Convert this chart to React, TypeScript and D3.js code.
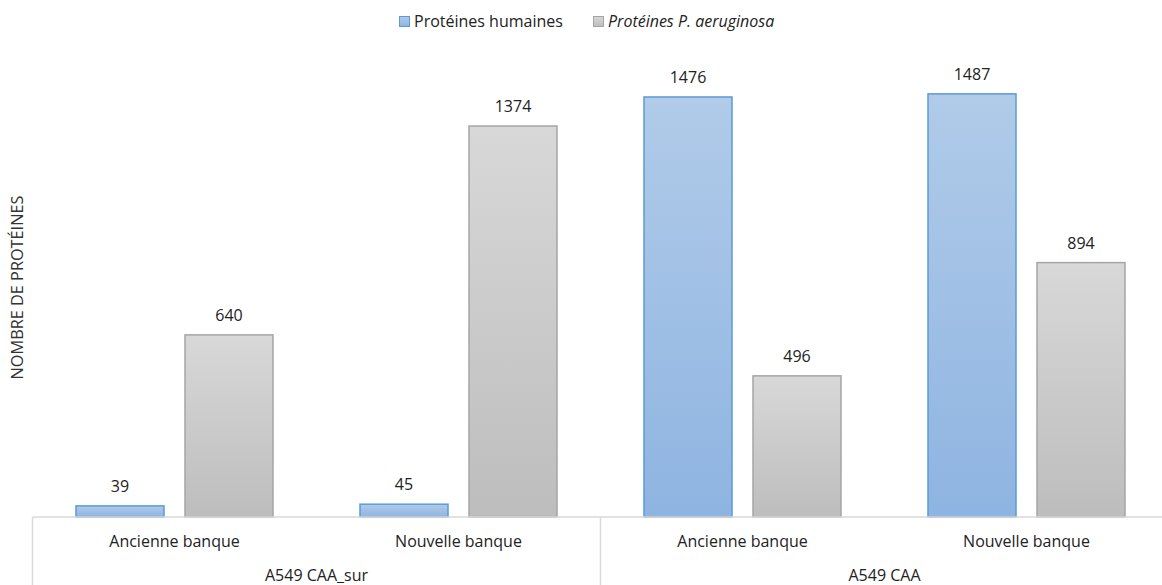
import React from "react";
import * as d3 from "d3";

const subCategories = ["Ancienne banque", "Nouvelle banque", "Ancienne banque", "Nouvelle banque"];
const groups = ["A549 CAA_sur", "A549 CAA"];
const seriesNames = ["Protéines humaines", "Protéines P. aeruginosa"];
const humaines = [39, 45, 1476, 1487];
const aeruginosa = [640, 1374, 496, 894];

const W = 1162;
const H = 585;
const FONT = "'Open Sans', sans-serif";

export default function App() {
  const left = 32.5;
  const right = 1168.5;
  const baseline = 517;
  const x = d3.scaleBand<number>().domain(d3.range(4)).range([left, right]).paddingInner(0).paddingOuter(0);
  const inner = d3.scaleBand<number>().domain([0, 1]).range([43.5, 284 - 43.5]).paddingInner(21 / 109).paddingOuter(0);
  const y = d3.scaleLinear().domain([0, 1600]).range([baseline, baseline - 455.3]);
  const series = [humaines, aeruginosa];
  const groupW = x.bandwidth() * 2;

  return (
    <svg
      width={W}
      height={H}
      style={{ display: "block", fontFamily: FONT, position: "fixed", left: 0, top: 0 }}
    >
      <defs>
        <linearGradient id="gBlue" x1="0" y1="0" x2="0" y2="1">
          <stop offset="0" stopColor="#b1cbe9" />
          <stop offset="1" stopColor="#8eb4e1" />
        </linearGradient>
        <linearGradient id="gGray" x1="0" y1="0" x2="0" y2="1">
          <stop offset="0" stopColor="#d8d8d8" />
          <stop offset="1" stopColor="#bdbdbd" />
        </linearGradient>
      </defs>
      <rect width={W} height={H} fill="#fff" />
      {/* legend */}
      <g>
        <rect x={399.5} y={16.5} width={10} height={10} fill="url(#gBlue)" stroke="#5b9bd5" />
        <text x={414} y={27} fontSize={16} fill="#222">{seriesNames[0]}</text>
        <rect x={593.5} y={16.5} width={10} height={10} fill="url(#gGray)" stroke="#a5a5a5" />
        <text x={608} y={27} fontSize={16} fill="#222" fontStyle="italic">{seriesNames[1]}</text>
      </g>
      {/* y label */}
      <text transform={`translate(23,287.5) rotate(-90)`} textAnchor="middle" fontSize={16.3} fill="#333">
        NOMBRE DE PROTÉINES
      </text>
      {/* bars */}
      {series.map((vals, si) =>
        vals.map((v, i) => {
          const bx = (x(i) as number) + (inner(si) as number);
          const bw = inner.bandwidth();
          const top = y(v);
          return (
            <g key={`${si}-${i}`}>
              <rect
                x={bx}
                y={top}
                width={bw}
                height={baseline - top}
                fill={si === 0 ? "url(#gBlue)" : "url(#gGray)"}
                stroke={si === 0 ? "#5b9bd5" : "#a5a5a5"}
                strokeWidth={1.5}
              />
              <text x={bx + bw / 2} y={top - 14} textAnchor="middle" fontSize={16} fill="#222">
                {v}
              </text>
            </g>
          );
        })
      )}
      {/* axis */}
      <line x1={left} x2={W} y1={baseline} y2={baseline} stroke="#d9d9d9" strokeWidth={1.5} />
      {[0, 1, 2].map((g) => (
        <line key={g} x1={left + g * groupW} x2={left + g * groupW} y1={baseline} y2={H} stroke="#d9d9d9" strokeWidth={1.5} />
      ))}
      {subCategories.map((c, i) => (
        <text key={i} x={(x(i) as number) + x.bandwidth() / 2} y={547} textAnchor="middle" fontSize={16} fill="#222">
          {c}
        </text>
      ))}
      {groups.map((g, i) => (
        <text key={g} x={left + groupW * i + groupW / 2} y={580.5} textAnchor="middle" fontSize={16} fill="#222">
          {g}
        </text>
      ))}
    </svg>
  );
}
